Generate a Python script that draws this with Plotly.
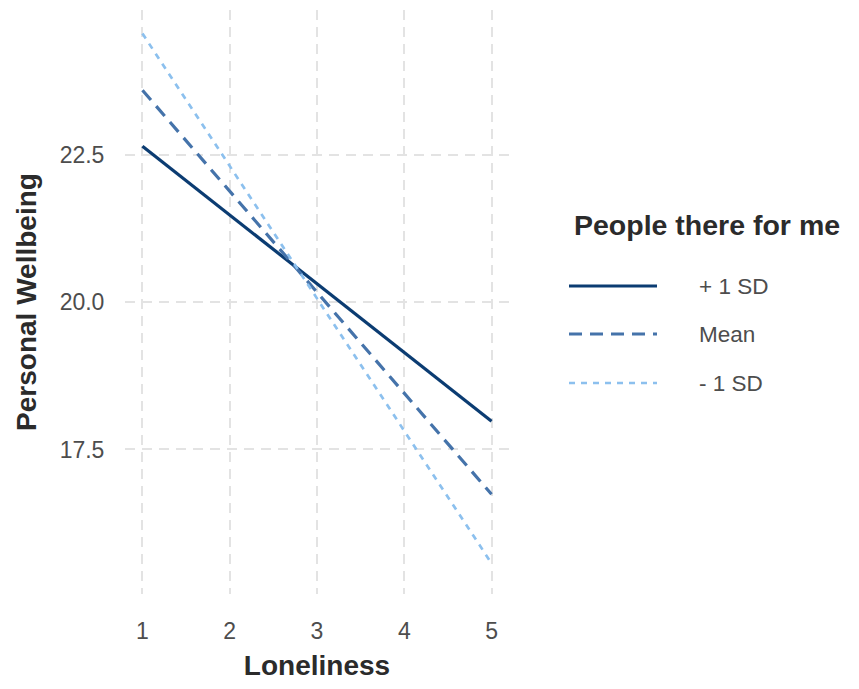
import plotly.graph_objects as go

# Data
loneliness = [1, 5]
series_names = ["+ 1 SD", "Mean", "- 1 SD"]
plus_1sd = [22.64, 17.98]
mean_vals = [23.59, 16.74]
minus_1sd = [24.55, 15.57]
x_ticks = [1, 2, 3, 4, 5]
y_ticks = [17.5, 20.0, 22.5]
y_tick_labels = ["17.5", "20.0", "22.5"]

colors = ["#0b3c72", "#4573aa", "#8cc0ee"]
dashes = ["solid", "13px,8px", "6px,6px"]
widths = [3.2, 3.2, 2.7]
values = [plus_1sd, mean_vals, minus_1sd]

FONT = "Liberation Sans, Arial, sans-serif"
OFF = 8  # page body margin

fig = go.Figure()
for name, vals, c, d, w in zip(series_names, values, colors, dashes, widths):
    fig.add_trace(go.Scatter(x=loneliness, y=vals, mode="lines", name=name,
                             line=dict(color=c, dash=d, width=w), showlegend=False))

# plot area pixel geometry (page coords)
L, R, T, B = 125, 509, 10, 594
W, H = 859 - 2 * OFF, 689 - 2 * OFF

def px(x):
    return (x - L) / (R - L)

def py(y):
    return (B - y) / (B - T)

# manual legend
fig.add_annotation(x=px(572), y=py(225), xref="paper", yref="paper", text="<b>People there for me</b>",
                   showarrow=False, xanchor="left", yanchor="middle",
                   font=dict(family=FONT, size=28.5, color="#2b2b2b"))
leg_y = [286, 334, 383]
for name, c, d, w, yy in zip(series_names, colors, dashes, widths, leg_y):
    fig.add_shape(type="line", xref="paper", yref="paper", x0=px(569), x1=px(657), y0=py(yy), y1=py(yy),
                  line=dict(color=c, dash=d, width=w))
    fig.add_annotation(x=px(697), y=py(yy), xref="paper", yref="paper", text=name, showarrow=False,
                       xanchor="left", yanchor="middle", font=dict(family=FONT, size=22.5, color="#4d4d4d"))

grid = dict(showgrid=True, gridcolor="#e3e3e3", gridwidth=1.5, griddash="10px,7px", zeroline=False,
            showline=False)

fig.update_layout(
    width=W, height=H,
    margin=dict(l=L - OFF, r=W - (R - OFF), t=T - OFF, b=H - (B - OFF), autoexpand=False),
    plot_bgcolor="white", paper_bgcolor="white",
    font=dict(family=FONT),
    xaxis=dict(range=[0.8, 5.2], tickvals=x_ticks, ticks="outside", ticklen=16, tickcolor="rgba(0,0,0,0)",
               tickfont=dict(size=23, color="#4d4d4d"),
               title=dict(text="<b>Loneliness</b>", font=dict(size=28, color="#2b2b2b"), standoff=20),
               **grid),
    yaxis=dict(range=[15.05, 24.95], tickvals=y_ticks, ticktext=y_tick_labels, ticks="outside", ticklen=15,
               tickcolor="rgba(0,0,0,0)", tickfont=dict(size=23, color="#4d4d4d"),
               title=dict(text="<b>Personal Wellbeing</b>", font=dict(size=28, color="#2b2b2b"), standoff=14),
               **grid),
)

fig.write_html("out.html")
